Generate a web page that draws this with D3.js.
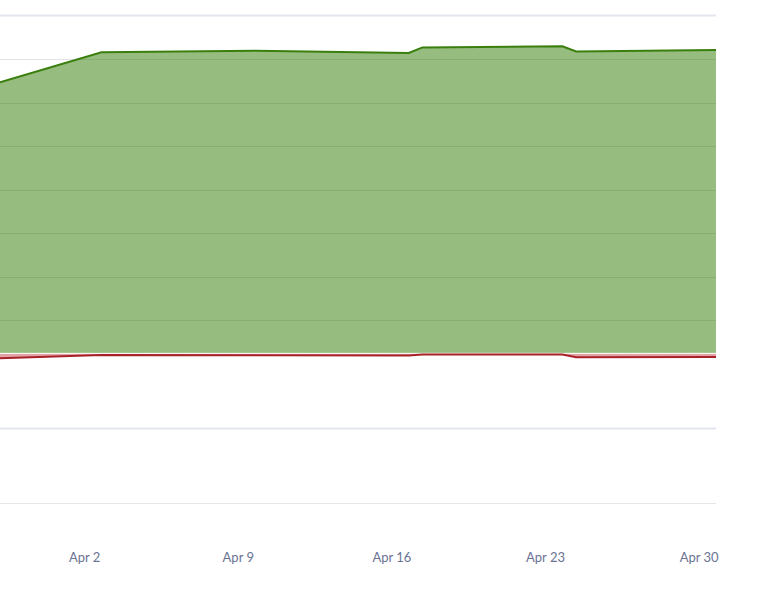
<!DOCTYPE html>
<html>
<head>
<meta charset="utf-8">
<script src="https://cdn.jsdelivr.net/npm/d3@7"></script>
<style>
  html, body { margin: 0; padding: 0; background: #fff; }
  svg { display: block; }
  .tick text { font-family: Lato, "Noto Sans", sans-serif; font-size: 13px; fill: #6b7394; }
</style>
</head>
<body>
<div id="chart"></div>
<script>
// data
const dates = [
  "2023-03-29T04:00", "2023-04-02T19:00", "2023-04-09T19:00", "2023-04-16T19:00",
  "2023-04-17T10:00", "2023-04-23T19:00", "2023-04-24T10:00", "2023-04-30T19:00"
];
const gained = [361, 401, 403, 400, 407.5, 409, 402, 404];
const lost = [-6.5, -2.3, -2.5, -3, -1.6, -1.6, -5.3, -5];
const tickDates = ["2023-04-02", "2023-04-09", "2023-04-16", "2023-04-23", "2023-04-30"];
const mainGrid = [-200, -100, 450];      // lines of the value axis
const sideGrid = [1, 2, 3, 4, 5, 6, 7];  // lines of the second axis

const width = 784;
const height = 610;
const plotRight = 716;
const plotTop = 15.5;
const plotBottom = 503.5;

const parse = d3.timeParse("%Y-%m-%dT%H:%M");
const parseDay = d3.timeParse("%Y-%m-%d");
const rows = dates.map((d, i) => ({ date: parse(d), gained: gained[i], lost: lost[i] }));

const x = d3.scaleTime()
  .domain([parse("2023-03-29T04:00"), parse("2023-04-30T19:00")])
  .range([0, plotRight]);
const y = d3.scaleLinear()
  .domain([-200, 450])
  .range([plotBottom, plotTop]);
// second axis, its own grid spacing
const y2 = d3.scaleLinear()
  .domain([0, 8])
  .range([363.5, plotTop]);

const svg = d3.select("#chart")
  .append("svg")
  .attr("width", width)
  .attr("height", height);

// grid
svg.append("g")
  .selectAll("line")
  .data(sideGrid)
  .join("line")
  .attr("x1", 0)
  .attr("x2", plotRight)
  .attr("y1", d => Math.round(y2(d)) + 0.5)
  .attr("y2", d => Math.round(y2(d)) + 0.5)
  .attr("stroke", "#e3e3e3");

svg.append("g")
  .selectAll("line")
  .data(mainGrid)
  .join("line")
  .attr("x1", 0)
  .attr("x2", plotRight)
  .attr("y1", d => y(d))
  .attr("y2", d => y(d))
  .attr("stroke", d => d == -200 ? "#e6e6e6" : "#e4e6ef")
  .attr("stroke-width", d => d == -200 ? 1 : 2);

// areas
svg.append("path")
  .datum(rows)
  .attr("fill", "#307a00")
  .attr("fill-opacity", 0.5)
  .attr("d", d3.area()
    .x(d => x(d.date))
    .y0(y(0))
    .y1(d => y(d.gained)));

svg.append("path")
  .datum(rows)
  .attr("fill", "#c0343a")
  .attr("fill-opacity", 0.45)
  .attr("d", d3.area()
    .x(d => x(d.date))
    .y0(y(0))
    .y1(d => y(d.lost)));

// zero line
svg.append("line")
  .attr("x1", 0)
  .attr("x2", plotRight)
  .attr("y1", y(0))
  .attr("y2", y(0))
  .attr("stroke", "#fff")
  .attr("stroke-width", 1);

svg.append("path")
  .datum(rows)
  .attr("fill", "none")
  .attr("stroke", "#3a7f0d")
  .attr("stroke-width", 2)
  .attr("d", d3.line()
    .x(d => x(d.date))
    .y(d => y(d.gained)));

svg.append("path")
  .datum(rows)
  .attr("fill", "none")
  .attr("stroke", "#a82329")
  .attr("stroke-width", 2)
  .attr("d", d3.line()
    .x(d => x(d.date))
    .y(d => y(d.lost)));

// x axis
const xAxis = svg.append("g")
  .attr("transform", `translate(0, ${plotBottom})`)
  .call(d3.axisBottom(x)
    .tickValues(tickDates.map(parseDay))
    .tickFormat(d3.timeFormat("%b %-d"))
    .tickSize(0)
    .tickPadding(49));
xAxis.select(".domain").remove();
</script>
</body>
</html>
